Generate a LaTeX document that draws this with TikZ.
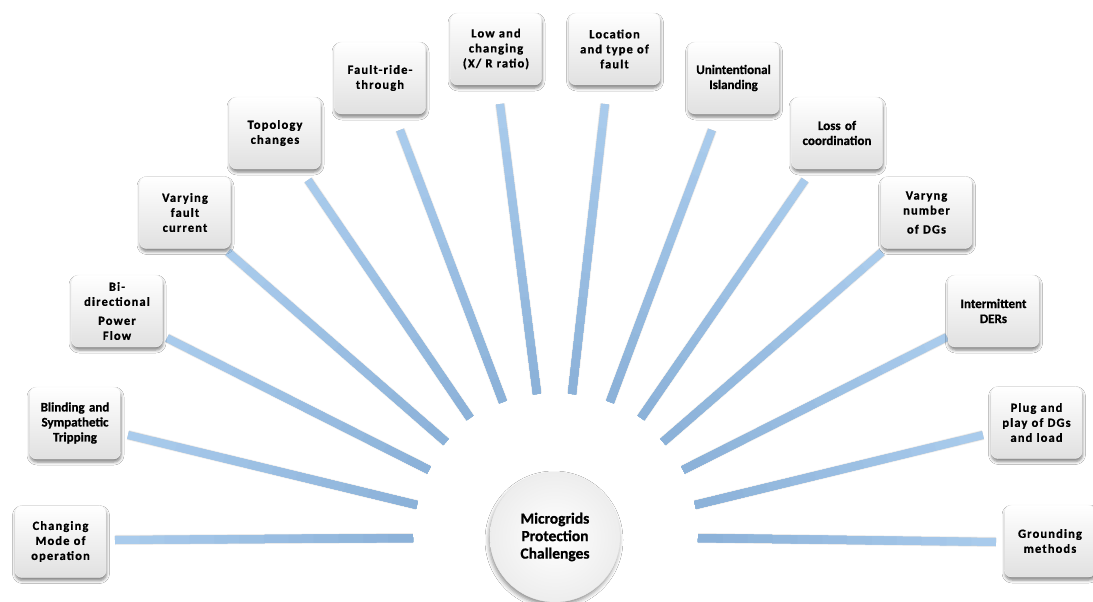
\documentclass[tikz,border=0pt]{standalone}
\usepackage{fontspec}
\setmainfont[BoldFeatures={FakeBold=0.8}]{Carlito}
\newfontfamily\spacedfont[LetterSpace=9,BoldFeatures={FakeBold=0.8}]{Carlito}
\usetikzlibrary{calc,shadows,shadows.blur}
\definecolor{spokeA}{HTML}{A9CBEC}
\definecolor{spokeB}{HTML}{8CB2D9}
\tikzset{
  box/.style={rounded corners=7pt, minimum width=91pt, minimum height=72pt,
    inner sep=1pt, align=center, text width=89pt,
    top color=white, bottom color=black!12, draw=black!6,
    blur shadow={shadow xshift=0.5pt, shadow yshift=-3pt, shadow blur radius=3pt, shadow opacity=50},
    font=\bfseries\fontsize{13}{15}\selectfont, text=black},
  sbox/.style={box, font=\spacedfont\bfseries\fontsize{12.5}{15}\selectfont},
  hub/.style={circle, minimum size=130pt, inner sep=0pt, align=center,
    shading=radial, inner color=white, outer color=black!7, draw=black!7,
    blur shadow={shadow xshift=-1pt, shadow yshift=-3pt, shadow blur radius=4pt, shadow opacity=45},
    font=\bfseries\fontsize{15.5}{17.5}\selectfont, text=black},
}
\newcommand\spokebar[2]{%
  \draw[line width=10pt, black, opacity=.08, shift={(1,3.5)}] (#1) -- (#2);
  \draw[line width=8pt, black, opacity=.18, shift={(1,2.5)}] (#1) -- (#2);
  \foreach \k in {0,...,11}{%
    \pgfmathsetmacro\p{100-\k*100/11}%
    \draw[line width=8pt, color=spokeA!\p!spokeB] ($(#1)!\k/12!(#2)$) -- (#2);}%
}
\begin{document}
\begin{tikzpicture}[x=1pt,y=-1pt]
\useasboundingbox[fill=white] (0,0) rectangle (1093,602);
% spoke end points
\coordinate (o1) at (115,540);  \coordinate (i1) at (413,538);
\coordinate (o2) at (128,435);  \coordinate (i2) at (417,505);
\coordinate (o3) at (167,338);  \coordinate (i3) at (429,470);
\coordinate (o4) at (228,252);  \coordinate (i4) at (446,442);
\coordinate (o5) at (308,180);  \coordinate (i5) at (470,418);
\coordinate (o6) at (400,130);  \coordinate (i6) at (503,402);
\coordinate (o7) at (500,104);  \coordinate (i7) at (537,394);
\coordinate (o8) at (605,104);  \coordinate (i8) at (572,394);
\coordinate (o9) at (712,130);  \coordinate (i9) at (610,402);
\coordinate (o10) at (805,180); \coordinate (i10) at (641,418);
\coordinate (o11) at (882,252); \coordinate (i11) at (663,442);
\coordinate (o12) at (947,337); \coordinate (i12) at (683,470);
\coordinate (o13) at (983,435); \coordinate (i13) at (695,505);
\coordinate (o14) at (996,542); \coordinate (i14) at (698,538);
\foreach \n in {1,...,14}{\spokebar{o\n}{i\n}}
% hub
\node[hub] (hub) at (555,537) {Microgrids\\Protection\\Challenges};
% boxes
\node[sbox] (b1) at (60.5,541.5) {Changing\\Mode of\\operation};
\node[box]  (b2) at (75,423) {Blinding and\\Sympathetic\\Tripping};
\node[sbox] (b3) at (117,311) {Bi-\\directional\\[4pt]Power\\Flow};
\node[sbox] (b4) at (185,212.5) {Varying\\fault\\current};
\node[sbox] (b5) at (275,133) {Topology\\changes};
\node[sbox] (b6) at (380,78) {Fault-ride-\\through};
\node[sbox] (b7) at (496,49) {Low and\\changing\\(X/ R ratio)};
\node[sbox] (b8) at (614.5,49) {Location\\and type of\\fault};
\node[box]  (b9) at (733.5,78) {Unintentional\\Islanding};
\node[box]  (b10) at (837,133) {Loss of\\coordination};
\node[sbox] (b11) at (926.5,212.5) {Varyng\\number\\[4pt]of DGs};
\node[box]  (b12) at (993.5,311) {Intermittent\\DERs};
\node[sbox] (b13) at (1036.5,422.5) {Plug and\\play of DGs\\and load};
\node[sbox] (b14) at (1050,541) {Grounding\\methods};
\end{tikzpicture}
\end{document}
